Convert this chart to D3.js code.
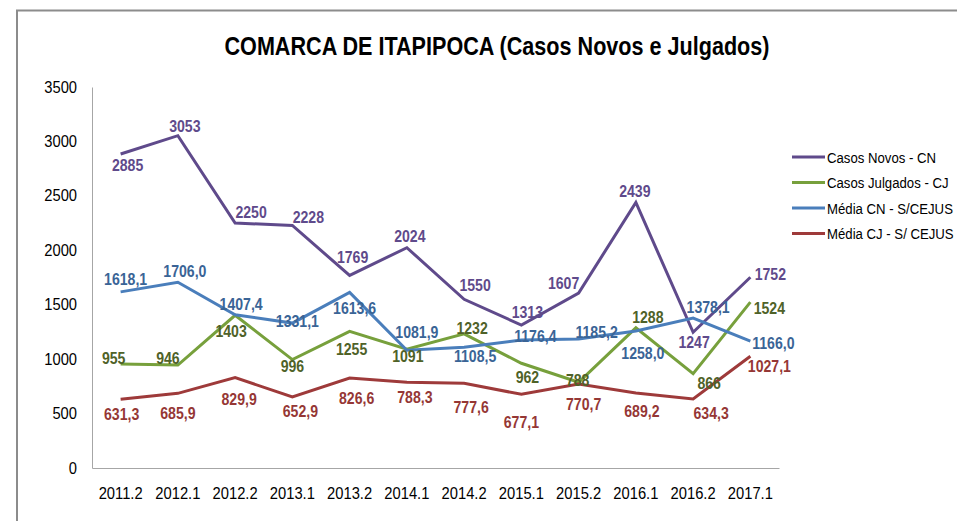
<!DOCTYPE html>
<html lang="pt">
<head>
  <meta charset="UTF-8">
  <style>
    body { margin: 0; background: #fff; }
    svg text { font-family: "Liberation Sans", Arial, sans-serif; }
  </style>
  <script src="https://d3js.org/d3.v7.min.js"></script>
</head>
<body>
  <svg id="chart" width="957" height="521"></svg>

  <script>
    const periods = ["2011.2", "2012.1", "2012.2", "2013.1", "2013.2", "2014.1",
                     "2014.2", "2015.1", "2015.2", "2016.1", "2016.2", "2017.1"];
    const casosNovos = [2885, 3053, 2250, 2228, 1769, 2024, 1550, 1313, 1607, 2439, 1247, 1752];
    const casosJulgados = [955, 946, 1403, 996, 1255, 1091, 1232, 962, 788, 1288, 866, 1524];
    const mediaCN = [1618.1, 1706.0, 1407.4, 1331.1, 1613.6, 1081.9, 1108.5, 1176.4, 1185.2, 1258.0, 1378.1, 1166.0];
    const mediaCJ = [631.3, 685.9, 829.9, 652.9, 826.6, 788.3, 777.6, 677.1, 770.7, 689.2, 634.3, 1027.1];
    const yTicks = [0, 500, 1000, 1500, 2000, 2500, 3000, 3500];

    // label offsets (dx, dy) from each point
    const offCN = [[7,12],[7,-9],[16,-11],[16,-8],[3,-18],[3,-11],[11,-14],[6,-13],[-15,-10],[-1,-11],[1,10],[20,-3]];
    const offCJ = [[-7,-6],[-10,-7],[-4,16],[0,7],[2,18],[1,7],[8,-5],[6,14],[-1,-2],[12,-10],[16,10],[19,6]];
    const offMCN = [[5,-12],[7,-11],[6,-10],[5,-2],[5,16],[10,-18],[11,9],[14,-3],[18,-6],[7,22],[15,-10],[23,2]];
    const offMCJ = [[1,15],[0,20],[4,22],[8,15],[7,20],[8,15],[7,24],[0,28],[5,20],[6,19],[18,15],[19,10]];

    const series = [
      { name: "Casos Novos - CN", values: casosNovos, color: "#5f4a8b", label: "#5f4a8b", off: offCN, fmt: d3.format("d") },
      { name: "Casos Julgados - CJ", values: casosJulgados, color: "#77a03c", label: "#4f6228", off: offCJ, fmt: d3.format("d") },
      { name: "Média CN - S/CEJUS", values: mediaCN, color: "#4a7ebb", label: "#3a6496", off: offMCN, fmt: v => v.toFixed(1).replace(".", ",") },
      { name: "Média CJ - S/ CEJUS", values: mediaCJ, color: "#9e3a3a", label: "#953735", off: offMCJ, fmt: v => v.toFixed(1).replace(".", ",") }
    ];

    // squeeze text horizontally, the original uses a narrow Calibri-like face
    function condense(sel, k) {
      sel.each(function () {
        const w = this.getComputedTextLength();
        d3.select(this).attr("textLength", w * k).attr("lengthAdjust", "spacingAndGlyphs");
      });
    }

    const svg = d3.select("#chart");

    // outer chart border (cropped on right and bottom)
    svg.append("path")
      .attr("d", "M17,540 L17,10.5 L960,10.5")
      .attr("fill", "none")
      .attr("stroke", "#8c8c8c")
      .attr("stroke-width", 2);

    svg.append("text")
      .attr("x", 497)
      .attr("y", 55)
      .attr("text-anchor", "middle")
      .attr("font-size", 25)
      .attr("font-weight", "bold")
      .attr("fill", "#000")
      .text("COMARCA DE ITAPIPOCA (Casos Novos e Julgados)")
      .attr("textLength", 545)
      .attr("lengthAdjust", "spacingAndGlyphs");

    const x = d3.scaleBand().domain(periods).range([92, 779]);
    const y = d3.scaleLinear().domain([0, 3500]).range([468, 87]);

    // axes
    const yAxis = svg.append("g")
      .attr("transform", "translate(92,0)")
      .call(d3.axisLeft(y).tickValues(yTicks).tickSize(0).tickPadding(15).tickFormat(d3.format("d")));
    yAxis.select(".domain").attr("stroke", "#a6a6a6");
    yAxis.selectAll("text").attr("font-size", 16).attr("fill", "#000")
      .style("font-family", "\"Liberation Sans\", Arial, sans-serif");
    condense(yAxis.selectAll("text"), 0.92);

    const xAxis = svg.append("g")
      .attr("transform", "translate(0,468)")
      .call(d3.axisBottom(x).tickSize(0).tickPadding(20));
    xAxis.select(".domain").attr("stroke", "#a6a6a6");
    xAxis.selectAll("text").attr("font-size", 16).attr("fill", "#000")
      .style("font-family", "\"Liberation Sans\", Arial, sans-serif");
    condense(xAxis.selectAll("text"), 0.92);

    const cx = i => x(periods[i]) + x.bandwidth() / 2;
    const line = d3.line().x((d, i) => cx(i)).y(d => y(d));

    series.forEach(s => {
      svg.append("path")
        .datum(s.values)
        .attr("fill", "none")
        .attr("stroke", s.color)
        .attr("stroke-width", 3)
        .attr("stroke-linejoin", "miter")
        .attr("d", line);
    });

    series.forEach(s => {
      const labels = svg.append("g")
        .selectAll("text")
        .data(s.values)
        .join("text")
        .attr("x", (d, i) => cx(i) + s.off[i][0])
        .attr("y", (d, i) => y(d) + s.off[i][1])
        .attr("text-anchor", "middle")
        .attr("dominant-baseline", "central")
        .attr("font-size", 16)
        .attr("font-weight", "bold")
        .attr("fill", s.label)
        .text(d => s.fmt(d));
      condense(labels, 0.88);
    });

    // legend
    const legend = svg.append("g").attr("transform", "translate(792,157)");
    series.forEach((s, i) => {
      const row = legend.append("g").attr("transform", `translate(0,${i * 25.5})`);
      row.append("line")
        .attr("x1", 0).attr("x2", 33)
        .attr("stroke", s.color)
        .attr("stroke-width", 3);
      const t = row.append("text")
        .attr("x", 35)
        .attr("dominant-baseline", "central")
        .attr("font-size", 15.5)
        .attr("fill", "#000")
        .text(s.name);
      condense(t, 0.85);
    });
  </script>
</body>
</html>
